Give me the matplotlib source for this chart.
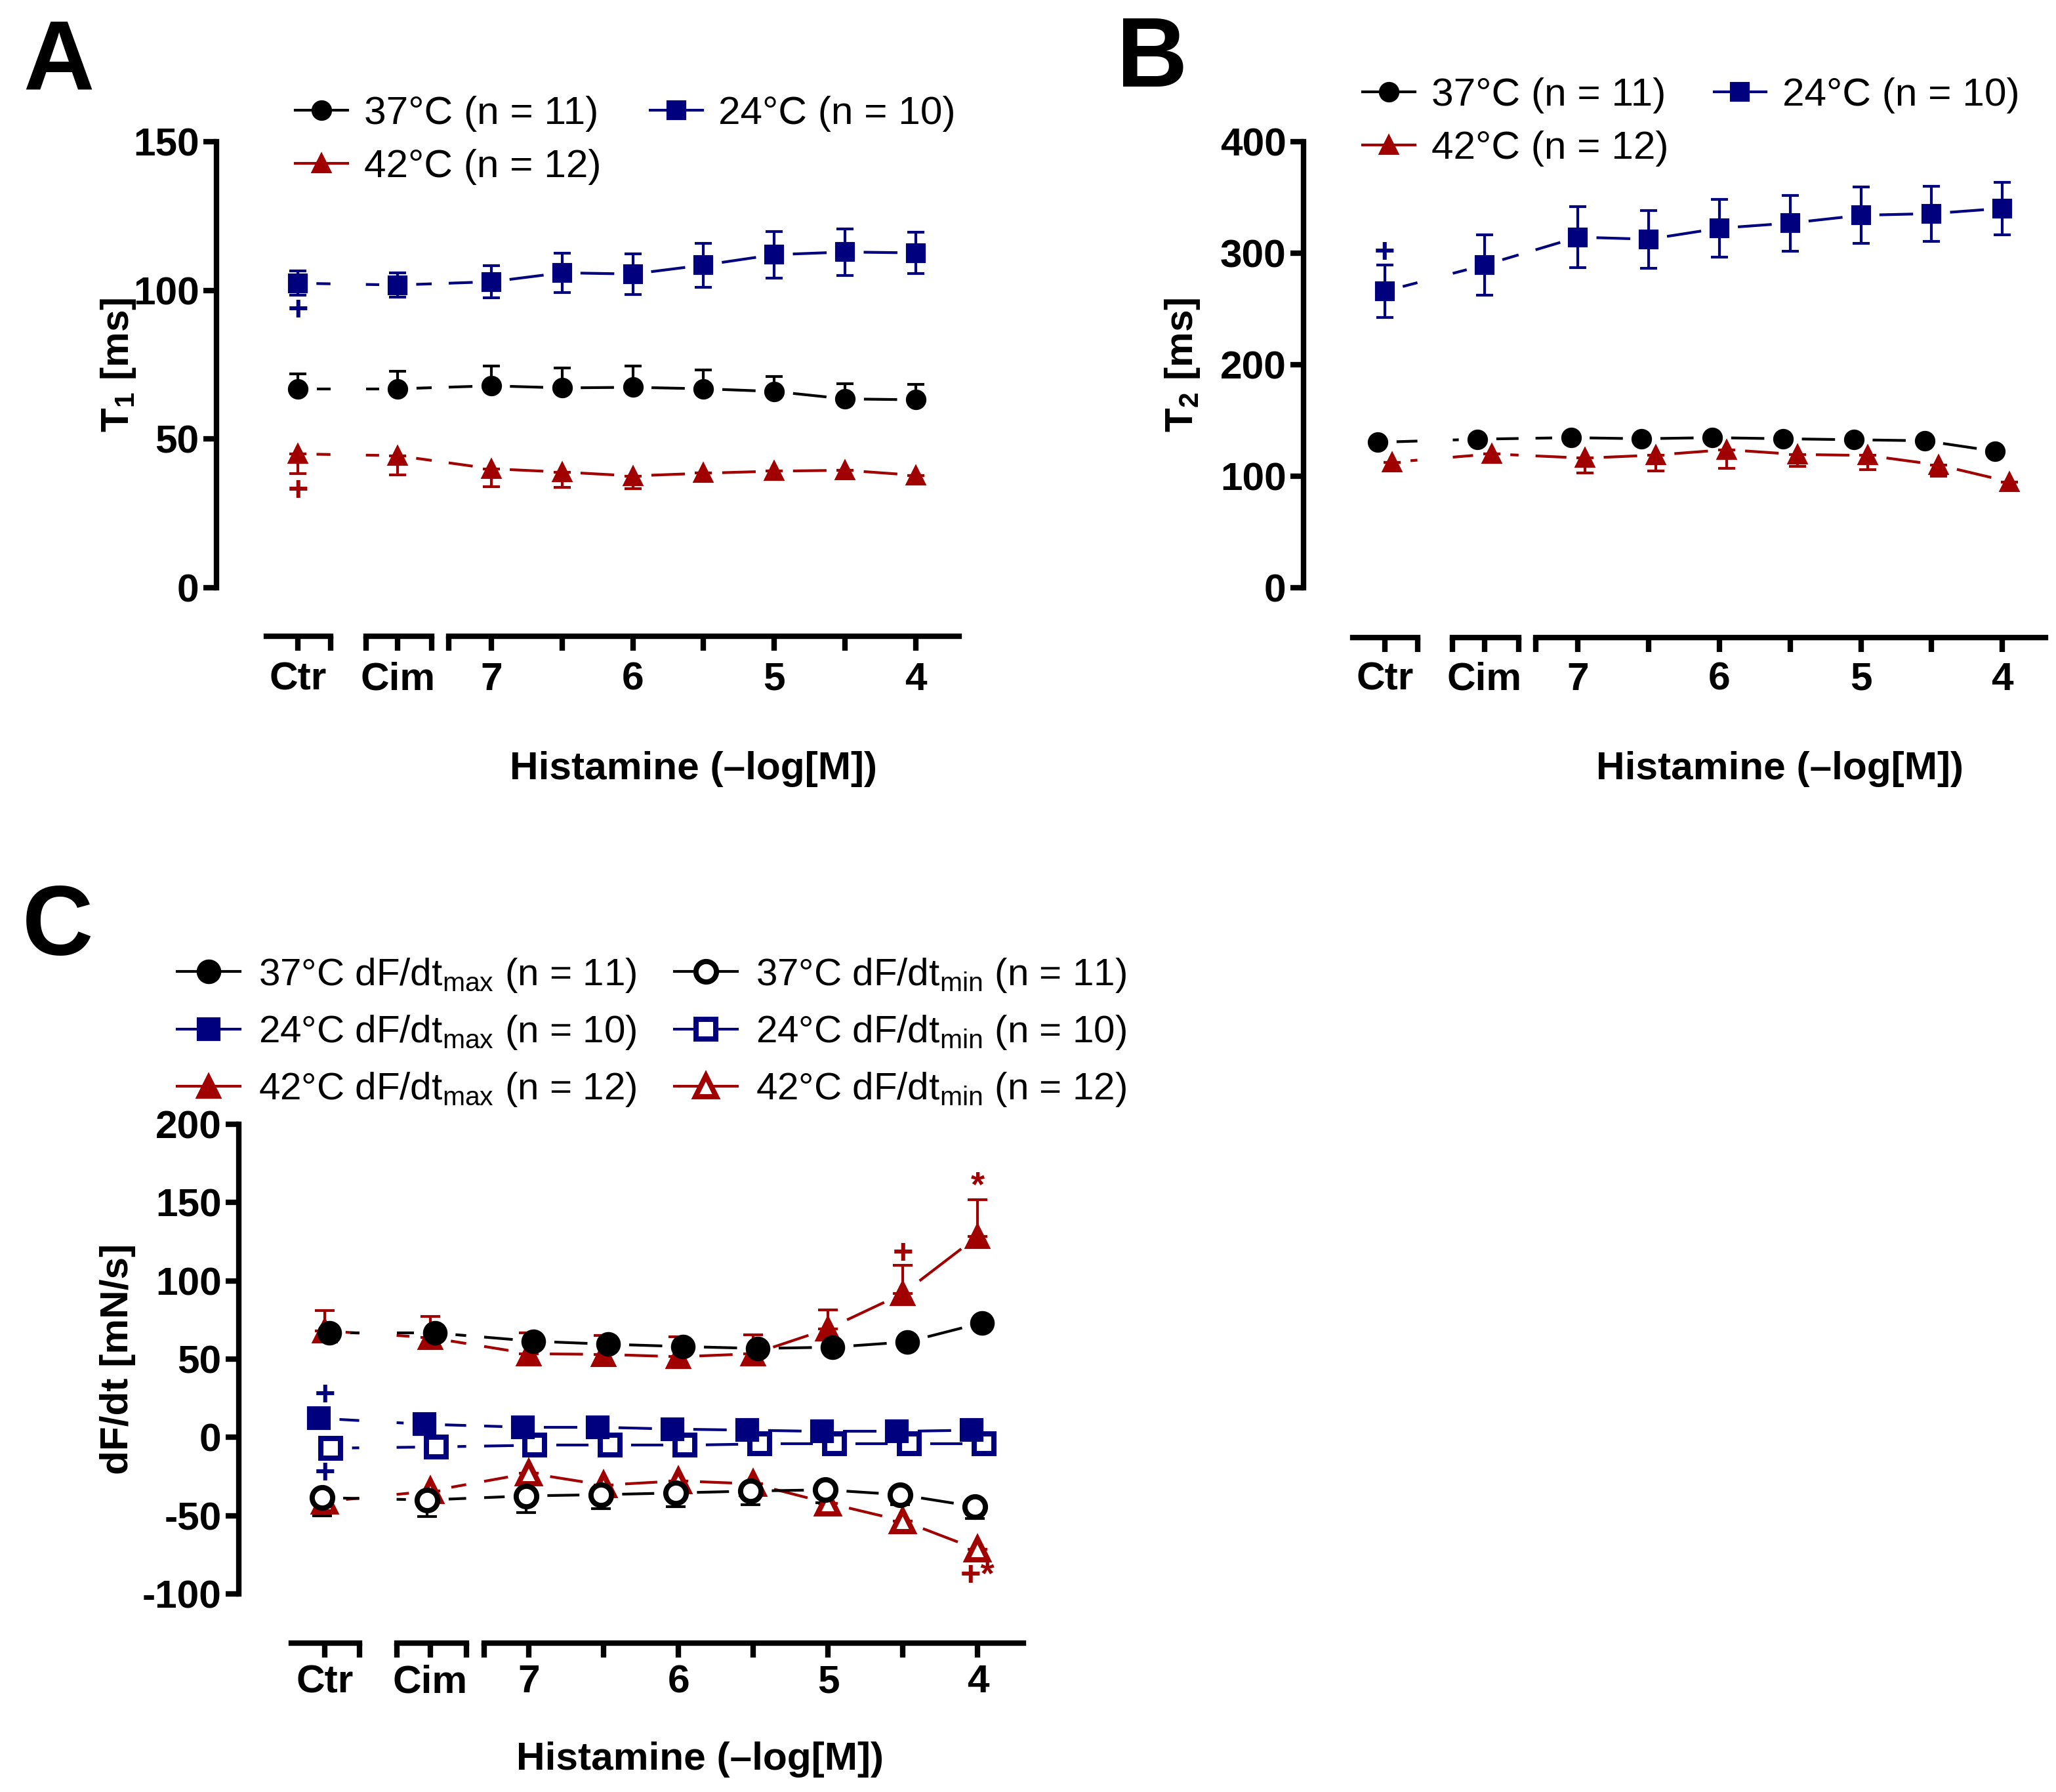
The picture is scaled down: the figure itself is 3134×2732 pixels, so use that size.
import matplotlib
matplotlib.use('Agg')
import matplotlib.pyplot as plt
from matplotlib.lines import Line2D
import numpy as np

plt.rcParams['font.family'] = ['Liberation Sans', 'DejaVu Sans']
plt.rcParams['mathtext.fontset'] = 'custom'
plt.rcParams['mathtext.rm'] = 'Liberation Sans'
plt.rcParams['mathtext.it'] = 'Liberation Sans'
plt.rcParams['mathtext.bf'] = 'Liberation Sans:bold'
plt.rcParams['axes.unicode_minus'] = False

W, H, DPI = 3134, 2732, 300
BLACK = '#000000'
BLUE = '#00007f'
RED = '#a00000'
FS = 14.5

# x layout: Ctr, Cim, then histamine 7 ... 4 (-log M) in half-log steps
conditions = ['Ctr', 'Cim', '7', '6.5', '6', '5.5', '5', '4.5', '4']
tick_labels = ['Ctr', 'Cim', '7', '', '6', '', '5', '', '4']
x_pos = np.array([-2.73, -1.32, 0, 1, 2, 3, 4, 5, 6])
seg_bounds = [(-3.18, -2.27), (-1.77, -0.84), (-0.6, 6.61)]
end_ticks = [-2.27, -1.77, -0.84, -0.6]

# panel A: T1 [ms]
t1_37 = [66.9, 66.9, 67.9, 67.2, 67.4, 66.9, 66.0, 63.5, 63.2]
t1_37_up = [5.1, 6.0, 6.6, 6.8, 7.2, 6.4, 5.1, 5.1, 5.1]
t1_24 = [102.4, 101.8, 102.9, 105.9, 105.5, 108.5, 112.0, 112.9, 112.6]
t1_24_err = [4.1, 4.1, 5.3, 6.7, 6.8, 7.4, 7.8, 7.8, 7.0]
t1_42 = [45.0, 44.4, 40.0, 38.9, 37.6, 38.5, 39.2, 39.5, 37.8]
t1_42_down = [6.6, 6.5, 6.0, 5.1, 4.4, 0, 0, 0, 0]

# panel B: T2 [ms]
t2_37 = [130.4, 133.2, 134.6, 133.6, 134.6, 133.6, 132.7, 131.8, 122.4]
t2_37_err = [3, 3, 3, 3, 3, 3, 3, 3, 3]
t2_24 = [265.9, 289.4, 314.4, 312.5, 322.4, 327.0, 334.0, 335.5, 340.2]
t2_24_err = [23.3, 27.3, 27.3, 26.0, 26.0, 25.0, 25.4, 24.7, 23.5]
t2_42 = [112.5, 120.0, 116.2, 119.0, 123.8, 119.5, 118.6, 110.0, 95.0]
t2_42_down = [0, 0, 13.0, 14.5, 17.0, 10.8, 12.7, 9.8, 0]

# panel C: dF/dt [mN/s]
dmax_37 = [66.7, 66.7, 61.4, 59.5, 58.0, 56.8, 57.6, 61.0, 73.2]
dmax_24 = [12.2, 8.4, 6.5, 6.5, 5.3, 4.6, 3.8, 3.8, 4.6]
dmax_42 = [68.0, 63.7, 53.4, 53.0, 51.5, 53.4, 69.4, 91.9, 128.5]
dmax_42_up = [13.0, 13.7, 13.3, 12.2, 12.9, 12.2, 12.2, 17.9, 23.5]
dmin_37 = [-38.5, -40.0, -37.4, -36.6, -35.5, -34.3, -33.5, -36.6, -44.2]
dmin_37_down = [11.5, 10.7, 10.6, 8.8, 8.7, 8.7, 8.4, 6.4, 7.6]
dmin_24 = [-6.9, -6.1, -5.0, -5.0, -5.0, -4.2, -4.2, -4.2, -4.2]
dmin_42 = [-41.0, -34.3, -22.9, -30.5, -27.8, -29.7, -42.0, -53.4, -71.7]
zeros = [0] * 9


def connect(ax, x, y, color, lw, gap):
    # GraphPad style: line stops short of each marker and breaks at axis gaps
    pts = ax.transData.transform(np.column_stack([x, y]))
    inv = ax.transData.inverted()
    for i in range(len(x) - 1):
        p0, p1 = pts[i], pts[i + 1]
        d = p1 - p0
        L = np.hypot(*d)
        if L <= 2 * gap:
            continue
        u = d / L
        q0 = inv.transform(p0 + u * gap)
        q1 = inv.transform(p1 - u * gap)
        for a, b in seg_bounds:
            lo, hi = max(a, q0[0]), min(b, q1[0])
            if hi <= lo:
                continue
            yy = np.interp([lo, hi], [q0[0], q1[0]], [q0[1], q1[1]])
            ax.plot([lo, hi], yy, color=color, lw=lw, solid_capstyle='butt', zorder=1)


def series(ax, y, lo, hi, color, marker, ms, filled=True, dx=0.0, lw=1.0, cap=3.1, mew=1.0):
    x = x_pos + dx
    y = np.array(y, dtype=float)
    ax.errorbar(x, y, yerr=np.vstack([lo, hi]), fmt='none', ecolor=color,
                elinewidth=1.0, capsize=cap, capthick=1.0, zorder=2)
    connect(ax, x, y, color, lw, (ms + mew) / 2 * DPI / 72 + 13)
    ax.plot(x, y, ls='none', marker=marker, ms=ms, mec=color, mew=mew,
            mfc=color if filled else 'white', zorder=3)


def handle(color, marker, ms, filled=True, mew=1.0, lw=1.0):
    return Line2D([], [], color=color, lw=lw, marker=marker, ms=ms, mec=color,
                  mew=mew, mfc=color if filled else 'white')


def style_axes(ax, ylim, yticks, ylabel, label_x):
    for s in ['top', 'right', 'bottom']:
        ax.spines[s].set_visible(False)
    ax.spines['left'].set_linewidth(2.0)
    ax.set_xlim(-3.88, 6.61)
    ax.set_ylim(*ylim)
    ax.set_yticks(yticks)
    ax.set_xticks([])
    ax.tick_params(axis='y', width=2.0, length=4.8, labelsize=FS, pad=1.5)
    for lab in ax.get_yticklabels():
        lab.set_fontweight('bold')
    ax.set_ylabel(ylabel, fontsize=FS, fontweight='bold')
    ax.yaxis.set_label_coords(label_x, 0.5)


def broken_xaxis(ax, axis_px, label_px, xlabel_px, xlabel_x):
    h_px = ax.get_position().height * H
    ya = -axis_px / h_px
    yt = -(axis_px + 22) / h_px
    tr = ax.get_xaxis_transform()
    for x0, x1 in seg_bounds:
        ax.plot([x0, x1], [ya, ya], transform=tr, color='k', lw=2.0,
                clip_on=False, solid_capstyle='projecting')
    for xt in list(x_pos) + end_ticks:
        ax.plot([xt, xt], [ya, yt], transform=tr, color='k', lw=2.0,
                clip_on=False, solid_capstyle='butt')
    for xt, lab in zip(x_pos, tick_labels):
        ax.text(xt, -label_px / h_px, lab, transform=tr, ha='center', va='center',
                fontsize=FS, fontweight='bold')
    ax.text(xlabel_x, -xlabel_px / h_px, 'Histamine (\u2013log[M])', transform=tr,
            ha='center', va='center', fontsize=FS, fontweight='bold')


def mark(ax, x, y, s, color):
    ax.text(x, y, s, color=color, ha='center', va='center', fontsize=13, fontweight='bold')


fig = plt.figure(figsize=(W / DPI, H / DPI), dpi=DPI)

# ---------- A ----------
axA = fig.add_axes([330 / W, 1 - 896 / H, (1462 - 330) / W, 680 / H])
style_axes(axA, (0, 150), [0, 50, 100, 150], 'T$_\\mathregular{1}$ [ms]', -0.106)
series(axA, t1_42, t1_42_down, zeros, RED, '^', 6.4)
series(axA, t1_24, t1_24_err, t1_24_err, BLUE, 's', 6.3)
series(axA, t1_37, zeros, t1_37_up, BLACK, 'o', 6.5)
mark(axA, x_pos[0], 93, '+', BLUE)
mark(axA, x_pos[0], 32.5, '+', RED)
broken_xaxis(axA, 74, 140, 276, 2.86)
axA.legend([handle(BLACK, 'o', 6.5), handle(RED, '^', 6.4), handle(BLUE, 's', 6.3)],
           ['37°C (n = 11)', '42°C (n = 12)', '24°C (n = 10)'],
           ncol=2, loc='center left', bbox_to_anchor=(450 / W, 1 - 214 / H),
           bbox_transform=fig.transFigure, frameon=False, borderpad=0, borderaxespad=0,
           handlelength=1.32, handletextpad=0.41, columnspacing=1.24,
           labelspacing=0.44, fontsize=FS)

# ---------- B ----------
axB = fig.add_axes([1987 / W, 1 - 896 / H, (3118 - 1987) / W, 680 / H])
style_axes(axB, (0, 400), [0, 100, 200, 300, 400], 'T$_\\mathregular{2}$ [ms]', -0.137)
series(axB, t2_42, t2_42_down, zeros, RED, '^', 6.4, dx=0.1)
series(axB, t2_37, t2_37_err, t2_37_err, BLACK, 'o', 6.5, dx=-0.1)
series(axB, t2_24, t2_24_err, t2_24_err, BLUE, 's', 6.3)
mark(axB, x_pos[0], 300, '+', BLUE)
broken_xaxis(axB, 76, 140, 276, 2.85)
axB.legend([handle(BLACK, 'o', 6.5), handle(RED, '^', 6.4), handle(BLUE, 's', 6.3)],
           ['37°C (n = 11)', '42°C (n = 12)', '24°C (n = 10)'],
           ncol=2, loc='center left', bbox_to_anchor=(2077 / W, 1 - 186 / H),
           bbox_transform=fig.transFigure, frameon=False, borderpad=0, borderaxespad=0,
           handlelength=1.32, handletextpad=0.41, columnspacing=1.15,
           labelspacing=0.44, fontsize=FS)

# ---------- C ----------
axC = fig.add_axes([364 / W, 1 - 2430 / H, (1560 - 364) / W, 716 / H])
style_axes(axC, (-100, 200), [-100, -50, 0, 50, 100, 150, 200], 'dF/dt [mN/s]', -0.131)
kw = dict(cap=3.6, lw=1.0)
series(axC, dmin_42, zeros, zeros, RED, '^', 7.5, filled=False, mew=1.9, **kw)
series(axC, dmax_42, zeros, dmax_42_up, RED, '^', 8.0, **kw)
series(axC, dmin_24, zeros, zeros, BLUE, 's', 7.4, filled=False, mew=1.9, dx=0.08, **kw)
series(axC, dmax_24, zeros, zeros, BLUE, 's', 7.9, dx=-0.08, **kw)
series(axC, dmin_37, dmin_37_down, zeros, BLACK, 'o', 7.5, filled=False, mew=1.9, dx=-0.04, **kw)
series(axC, dmax_37, zeros, zeros, BLACK, 'o', 8.0, dx=0.06, **kw)
mark(axC, x_pos[0], 26.7, '+', BLUE)
mark(axC, x_pos[0], -23.3, '+', BLUE)
mark(axC, x_pos[7], 117, '+', RED)
mark(axC, x_pos[8], 160, '*', RED)
mark(axC, x_pos[8], -88.8, '+*', RED)
broken_xaxis(axC, 75, 135, 253, 2.29)
hC = [handle(BLACK, 'o', 8.0), handle(BLUE, 's', 7.9), handle(RED, '^', 8.0),
      handle(BLACK, 'o', 7.5, False, 1.9), handle(BLUE, 's', 7.4, False, 1.9),
      handle(RED, '^', 7.5, False, 1.9)]
lC = ['37°C dF/dt$_\\mathregular{max}$ (n = 11)', '24°C dF/dt$_\\mathregular{max}$ (n = 10)',
      '42°C dF/dt$_\\mathregular{max}$ (n = 12)', '37°C dF/dt$_\\mathregular{min}$ (n = 11)',
      '24°C dF/dt$_\\mathregular{min}$ (n = 10)', '42°C dF/dt$_\\mathregular{min}$ (n = 12)']
axC.legend(hC, lC, ncol=2, loc='center left', bbox_to_anchor=(270 / W, 1 - 1574 / H),
           bbox_transform=fig.transFigure, frameon=False, borderpad=0, borderaxespad=0,
           handlelength=1.65, handletextpad=0.47, columnspacing=1.0,
           labelspacing=0.5, fontsize=14)

fig.text(35 / W, 1 - 136 / H, 'A', fontsize=36, fontweight='bold', va='baseline')
fig.text(1702 / W, 1 - 132 / H, 'B', fontsize=36, fontweight='bold', va='baseline')
fig.text(34 / W, 1 - 1456 / H, 'C', fontsize=36, fontweight='bold', va='baseline')

fig.savefig('out.png', dpi=DPI)
